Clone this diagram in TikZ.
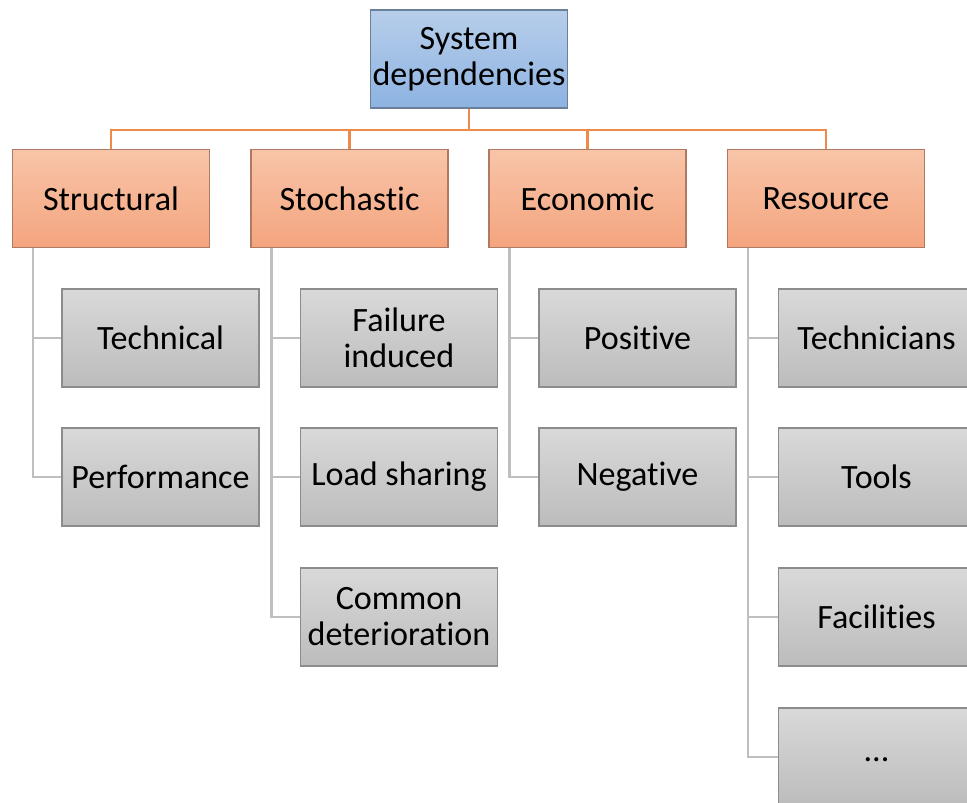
\documentclass[tikz,border=0pt]{standalone}
\usepackage{fontspec}
\setmainfont[Ligatures=NoCommon]{Carlito}
\definecolor{rootTop}{HTML}{B7CEEA}
\definecolor{rootBot}{HTML}{8DB3E2}
\definecolor{rootLine}{HTML}{6A7F99}
\definecolor{catTop}{HTML}{F8C5A9}
\definecolor{catBot}{HTML}{F4A47E}
\definecolor{catLine}{HTML}{B07A62}
\definecolor{subTop}{HTML}{D9D9D9}
\definecolor{subBot}{HTML}{BCBCBC}
\definecolor{subLine}{HTML}{8C8C8C}
\definecolor{busLine}{HTML}{F08A4B}
\definecolor{linkLine}{HTML}{BFBFBF}
\begin{document}
\begin{tikzpicture}[x=0.02cm,y=-0.02cm,
      font=\fontsize{19.4}{20.5}\selectfont,
      box/.style={draw,line width=0.6pt,align=center,inner sep=0pt,
        minimum width=3.94cm,minimum height=1.96cm},
      rootbox/.style={box,draw=rootLine,top color=rootTop,bottom color=rootBot},
      catbox/.style={box,draw=catLine,top color=catTop,bottom color=catBot},
      subbox/.style={box,draw=subLine,top color=subTop,bottom color=subBot},
      busline/.style={draw=busLine,line width=1.3pt},
      linkline/.style={draw=linkLine,line width=1.4pt}]
      \useasboundingbox (0,0) rectangle (967,803);
      \clip (0,0) rectangle (967,803);
      \fill[white] (0,0) rectangle (967,803);
      \coordinate (bus) at (469,130);
      \node[rootbox] (root) at (469,59) {System\\dependencies};
      \node[catbox] (structural) at (111,198.5) {Structural};
      \node[catbox] (stochastic) at (349.5,198.5) {Stochastic};
      \node[catbox] (economic) at (587.5,198.5) {Economic};
      \node[catbox] (resource) at (826,198.5) {Resource};
      \foreach \n in {structural,stochastic,economic,resource}
        \draw[busline] (root.south) -- (root.south |- bus) -| (\n.north);
      \node[subbox] (technical) at (160.5,338) {Technical};
      \node[subbox] (performance) at (160.5,477) {Performance};
      \node[subbox] (failure) at (399,338) {Failure\\induced};
      \node[subbox] (loadsharing) at (399,477) {Load sharing};
      \node[subbox] (common) at (399,617) {Common\\deterioration};
      \node[subbox] (positive) at (637.5,338) {Positive};
      \node[subbox] (negative) at (637.5,477) {Negative};
      \node[subbox] (technicians) at (876.5,338) {Technicians};
      \node[subbox] (tools) at (876.5,477) {Tools};
      \node[subbox] (facilities) at (876.5,617) {Facilities};
      \node[subbox] (dots) at (876.5,757) {\raisebox{-0.2cm}{...}};
      \foreach \p/\c in {structural/technical,structural/performance,
          stochastic/failure,stochastic/loadsharing,stochastic/common,
          economic/positive,economic/negative,
          resource/technicians,resource/tools,resource/facilities,resource/dots}
        \draw[linkline] ([xshift=0.42cm]\p.south west) |- (\c.west);
\end{tikzpicture}
\end{document}
